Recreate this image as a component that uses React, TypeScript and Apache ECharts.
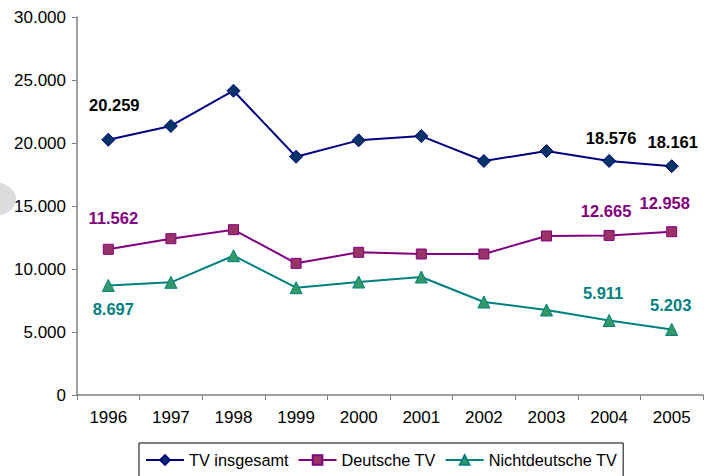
import React, { useEffect, useRef } from "react";
import * as echarts from "echarts";

const years = ["1996", "1997", "1998", "1999", "2000", "2001", "2002", "2003", "2004", "2005"];
const tvGesamt = [20259, 21350, 24150, 18910, 20210, 20550, 18570, 19365, 18576, 18161];
const deutscheTV = [11562, 12405, 13120, 10450, 11325, 11190, 11190, 12620, 12665, 12958];
const nichtdeutscheTV = [8697, 8944, 11055, 8516, 8968, 9365, 7380, 6746, 5911, 5203];
const seriesNames = ["TV insgesamt", "Deutsche TV", "Nichtdeutsche TV"];
const yTicks = [0, 5000, 10000, 15000, 20000, 25000, 30000];

const fmt = (v: number) => (v === 0 ? "0" : String(v).replace(/\B(?=(\d{3})+(?!\d))/g, "."));

type LabelSpec = { idx: number; dx: number; dy: number };
const gesamtLabels: LabelSpec[] = [
  { idx: 0, dx: 6, dy: -35 },
  { idx: 8, dx: 2, dy: -23 },
  { idx: 9, dx: 1, dy: -24 },
];
const deutscheLabels: LabelSpec[] = [
  { idx: 0, dx: 5, dy: -31 },
  { idx: 8, dx: -3, dy: -24 },
  { idx: 9, dx: -7, dy: -29 },
];
const nichtLabels: LabelSpec[] = [
  { idx: 0, dx: 5, dy: 24 },
  { idx: 8, dx: -6, dy: -28 },
  { idx: 9, dx: -1, dy: -24 },
];

const font = "'Liberation Sans', Arial, sans-serif";

function buildData(values: number[], labels: LabelSpec[], color: string) {
  return values.map((v, i) => {
    const l = labels.find((s) => s.idx === i);
    if (!l) return v;
    return {
      value: v,
      label: {
        show: true,
        position: "inside",
        offset: [l.dx, l.dy],
        formatter: () => fmt(v),
        color,
        fontWeight: "bold",
        fontSize: 16.5,
        fontFamily: font,
      },
    };
  });
}

export default function App() {
  const ref = useRef<HTMLDivElement>(null);
  useEffect(() => {
    document.body.style.margin = "0";
    const chart = echarts.init(ref.current!, undefined, { renderer: "svg" });
    chart.setOption({
      animation: false,
      backgroundColor: "#ffffff",
      textStyle: { fontFamily: font },
      graphic: [
        {
          type: "ellipse",
          shape: { cx: -6, cy: 199, rx: 22, ry: 17 },
          style: { fill: "#dcdcdc" },
          z: -1,
        },
      ],
      grid: { left: 77, right: 1, top: 17, bottom: 81 },
      legend: {
        left: 139,
        top: 443,
        data: seriesNames,
        itemWidth: 38,
        itemHeight: 12,
        itemGap: 9,
        padding: [9, 6, 20, 6],
        borderColor: "#000",
        borderWidth: 1,
        textStyle: { fontSize: 16.3, color: "#000", fontFamily: font },
      },
      xAxis: {
        type: "category",
        data: years,
        boundaryGap: true,
        axisLine: { lineStyle: { color: "#808080", width: 1.5 } },
        axisTick: { show: true, length: 5, lineStyle: { color: "#808080" } },
        axisLabel: { color: "#000", fontSize: 17, margin: 14, fontFamily: font },
        splitLine: { show: false },
      },
      yAxis: {
        type: "value",
        min: yTicks[0],
        max: yTicks[yTicks.length - 1],
        interval: 5000,
        axisLine: { show: true, lineStyle: { color: "#808080", width: 1.5 } },
        axisTick: { show: true, length: 5, lineStyle: { color: "#808080" } },
        axisLabel: { color: "#000", fontSize: 17, margin: 11, formatter: fmt, fontFamily: font },
        splitLine: { show: false },
      },
      series: [
        {
          name: seriesNames[0],
          type: "line",
          data: buildData(tvGesamt, gesamtLabels, "#000000"),
          symbol: "diamond",
          symbolSize: 13,
          lineStyle: { color: "#000080", width: 2 },
          itemStyle: { color: "#003366", borderColor: "#000080", borderWidth: 1 },
          z: 3,
        },
        {
          name: seriesNames[1],
          type: "line",
          data: buildData(deutscheTV, deutscheLabels, "#800080"),
          symbol: "rect",
          symbolSize: 10,
          lineStyle: { color: "#800080", width: 2 },
          itemStyle: { color: "#993366", borderColor: "#800080", borderWidth: 1 },
          z: 2,
        },
        {
          name: seriesNames[2],
          type: "line",
          data: buildData(nichtdeutscheTV, nichtLabels, "#008080"),
          symbol: "triangle",
          symbolSize: 12,
          lineStyle: { color: "#008080", width: 2 },
          itemStyle: { color: "#339966", borderColor: "#008080", borderWidth: 1 },
          z: 1,
        },
      ],
    });
    return () => chart.dispose();
  }, []);
  return <div ref={ref} style={{ width: 704, height: 476 }} />;
}
